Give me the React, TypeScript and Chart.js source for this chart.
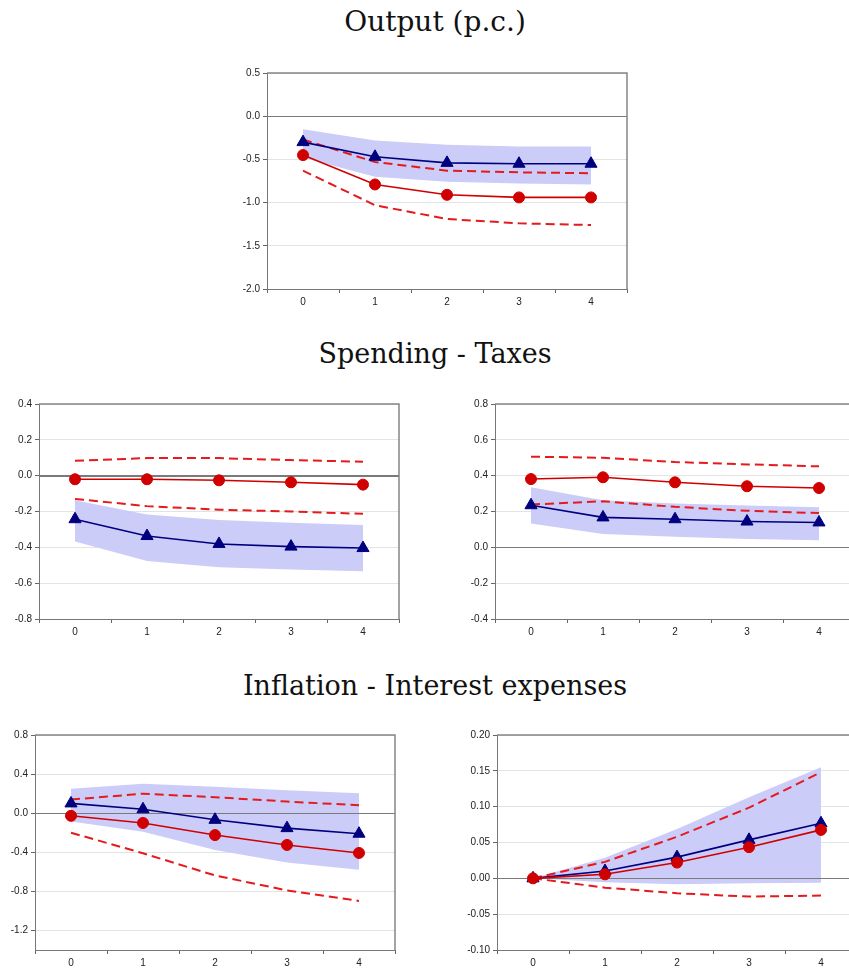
import React, { useEffect, useRef } from 'react';
import { Chart, registerables } from 'chart.js';

Chart.register(...registerables);

// ---------- data ----------
const horizons = ['0', '1', '2', '3', '4'];

// Output (p.c.)
const outRed = [-0.45, -0.79, -0.91, -0.94, -0.94];
const outRedUp = [-0.27, -0.53, -0.63, -0.65, -0.66];
const outRedLo = [-0.63, -1.03, -1.19, -1.24, -1.26];
const outBlue = [-0.30, -0.47, -0.54, -0.55, -0.55];
const outBlueUp = [-0.15, -0.28, -0.33, -0.35, -0.35];
const outBlueLo = [-0.48, -0.70, -0.76, -0.78, -0.79];
const outTicks = [-2.0, -1.5, -1.0, -0.5, 0.0, 0.5];

// Spending (left)
const spendRed = [-0.02, -0.02, -0.026, -0.037, -0.05];
const spendRedUp = [0.083, 0.098, 0.098, 0.087, 0.078];
const spendRedLo = [-0.13, -0.17, -0.19, -0.20, -0.213];
const spendBlue = [-0.243, -0.337, -0.381, -0.396, -0.404];
const spendBlueUp = [-0.137, -0.217, -0.248, -0.263, -0.276];
const spendBlueLo = [-0.368, -0.476, -0.511, -0.524, -0.533];
const spendTicks = [-0.8, -0.6, -0.4, -0.2, 0.0, 0.2, 0.4];

// Taxes (right)
const taxRed = [0.381, 0.391, 0.363, 0.341, 0.331];
const taxRedUp = [0.506, 0.5, 0.476, 0.463, 0.452];
const taxRedLo = [0.239, 0.257, 0.226, 0.204, 0.191];
const taxBlue = [0.235, 0.167, 0.157, 0.144, 0.139];
const taxBlueUp = [0.335, 0.263, 0.244, 0.233, 0.224];
const taxBlueLo = [0.133, 0.074, 0.059, 0.046, 0.039];
const taxTicks = [-0.4, -0.2, 0.0, 0.2, 0.4, 0.6, 0.8];

// Inflation (left)
const inflRed = [-0.027, -0.10, -0.224, -0.325, -0.407];
const inflRedUp = [0.139, 0.20, 0.163, 0.119, 0.081];
const inflRedLo = [-0.20, -0.41, -0.637, -0.79, -0.898];
const inflBlue = [0.10, 0.04, -0.068, -0.153, -0.21];
const inflBlueUp = [0.25, 0.30, 0.27, 0.234, 0.203];
const inflBlueLo = [-0.085, -0.19, -0.376, -0.505, -0.58];
const inflTicks = [-1.2, -0.8, -0.4, 0.0, 0.4, 0.8];

// Interest expenses (right)
const intRed = [0, 0.0056, 0.022, 0.0435, 0.0676];
const intRedUp = [0, 0.023, 0.058, 0.0986, 0.148];
const intRedLo = [0, -0.013, -0.0208, -0.0255, -0.024];
const intBlue = [0, 0.0102, 0.0296, 0.0537, 0.0769];
const intBlueUp = [0, 0.0287, 0.069, 0.113, 0.155];
const intBlueLo = [0, -0.0056, -0.0083, -0.007, -0.006];
const intTicks = [-0.10, -0.05, 0.0, 0.05, 0.10, 0.15, 0.20];

// ---------- styling ----------
const BAND = '#ccccf8';
const NAVY = '#00007f';
const RED = '#d00000';
const RED_DASH = '#e41a1c';
const TICK_FONT = { family: '"Liberation Sans", Arial, sans-serif', size: 10 };

const LY = 50;
const PT = 8;
const PR = 8;
const XH = 24;

type Spec = {
  left: number; top: number; w: number; h: number;
  min: number; max: number; ticks: number[]; dec: number;
  red: number[]; redUp: number[]; redLo: number[];
  blue: number[]; blueUp: number[]; blueLo: number[];
};

const panels: Spec[] = [
  { left: 267, top: 72, w: 360, h: 217, min: -2.0, max: 0.5, ticks: outTicks, dec: 1,
    red: outRed, redUp: outRedUp, redLo: outRedLo, blue: outBlue, blueUp: outBlueUp, blueLo: outBlueLo },
  { left: 39, top: 403, w: 360, h: 216, min: -0.8, max: 0.4, ticks: spendTicks, dec: 1,
    red: spendRed, redUp: spendRedUp, redLo: spendRedLo, blue: spendBlue, blueUp: spendBlueUp, blueLo: spendBlueLo },
  { left: 495, top: 403, w: 360, h: 216, min: -0.4, max: 0.8, ticks: taxTicks, dec: 1,
    red: taxRed, redUp: taxRedUp, redLo: taxRedLo, blue: taxBlue, blueUp: taxBlueUp, blueLo: taxBlueLo },
  { left: 35, top: 734, w: 360, h: 216, min: -1.4, max: 0.8, ticks: inflTicks, dec: 1,
    red: inflRed, redUp: inflRedUp, redLo: inflRedLo, blue: inflBlue, blueUp: inflBlueUp, blueLo: inflBlueLo },
  { left: 497, top: 734, w: 360, h: 216, min: -0.10, max: 0.20, ticks: intTicks, dec: 2,
    red: intRed, redUp: intRedUp, redLo: intRedLo, blue: intBlue, blueUp: intBlueUp, blueLo: intBlueLo },
];

const titles = [
  { text: 'Output (p.c.)', top: 8, size: 28 },
  { text: 'Spending - Taxes', top: 340, size: 27 },
  { text: 'Inflation - Interest expenses', top: 672, size: 27 },
];

const framePlugin = {
  id: 'frame',
  afterDatasetDraw(chart: any, args: any) {
    // zero line above the band, below the lines
    if (args.index !== 4) return;
    const { ctx, chartArea } = chart;
    const y = Math.round(chart.scales.y.getPixelForValue(0)) + 0.5;
    ctx.save();
    ctx.strokeStyle = '#7a7a7a';
    ctx.lineWidth = 1;
    ctx.beginPath();
    ctx.moveTo(chartArea.left, y);
    ctx.lineTo(chartArea.right, y);
    ctx.stroke();
    ctx.restore();
  },
  afterDraw(chart: any) {
    const { ctx, chartArea } = chart;
    ctx.save();
    ctx.strokeStyle = '#858585';
    ctx.lineWidth = 1.5;
    ctx.beginPath();
    ctx.moveTo(chartArea.left, chartArea.top);
    ctx.lineTo(chartArea.right, chartArea.top);
    ctx.lineTo(chartArea.right, chartArea.bottom);
    ctx.stroke();
    ctx.restore();
  },
};

function Panel({ spec }: { spec: Spec }) {
  const ref = useRef<HTMLCanvasElement>(null);
  const cw = LY + spec.w + PR;
  const ch = PT + spec.h + XH;
  useEffect(() => {
    if (!ref.current) return;
    const dashed = (data: number[]) => ({
      data, borderColor: RED_DASH, borderWidth: 2, borderDash: [9, 5],
      pointRadius: 0, pointHoverRadius: 0, fill: false, tension: 0,
    });
    const chart = new Chart(ref.current, {
      type: 'line',
      data: {
        labels: horizons,
        datasets: [
          { data: spec.red, borderColor: RED, borderWidth: 1.6, pointStyle: 'circle', pointRadius: 5.5,
            pointBackgroundColor: RED, pointBorderColor: RED, pointBorderWidth: 1, fill: false, tension: 0 },
          { data: spec.blue, borderColor: NAVY, borderWidth: 1.6, pointStyle: 'triangle', pointRadius: 7,
            pointBackgroundColor: NAVY, pointBorderColor: NAVY, pointBorderWidth: 1, fill: false, tension: 0 },
          dashed(spec.redUp),
          dashed(spec.redLo),
          { data: spec.blueUp, borderWidth: 0, borderColor: 'rgba(0,0,0,0)', pointRadius: 0,
            backgroundColor: BAND, fill: '+1', tension: 0 },
          { data: spec.blueLo, borderWidth: 0, borderColor: 'rgba(0,0,0,0)', pointRadius: 0,
            fill: false, tension: 0 },
        ] as any,
      },
      options: {
        responsive: false,
        animation: false,
        devicePixelRatio: 1,
        layout: { padding: { top: PT, right: PR, left: 0, bottom: 0 } },
        plugins: { legend: { display: false }, tooltip: { enabled: false } },
        events: [],
        scales: {
          x: {
            type: 'category',
            offset: true,
            grid: { offset: true, drawOnChartArea: false, drawTicks: true, tickLength: 4, tickColor: '#666' },
            border: { color: '#777', width: 1 },
            ticks: { color: '#222', font: TICK_FONT, padding: 3, maxRotation: 0, autoSkip: false },
            afterFit: (s: any) => { s.height = XH; },
          },
          y: {
            min: spec.min,
            max: spec.max,
            afterBuildTicks: (s: any) => { s.ticks = spec.ticks.map((v) => ({ value: v })); },
            grid: {
              color: (c: any) => (c.tick && Math.abs(c.tick.value) < 1e-9 ? '#7a7a7a' : '#e3e3e3'),
              tickColor: '#666',
              tickLength: 4,
              lineWidth: 1,
            },
            border: { color: '#777', width: 1 },
            ticks: {
              color: '#222', font: TICK_FONT, padding: 3,
              callback: (v: any) => Number(v).toFixed(spec.dec),
            },
            afterFit: (s: any) => { s.width = LY; },
          },
        } as any,
      },
      plugins: [framePlugin],
    });
    return () => chart.destroy();
  }, [spec]);
  return (
    <canvas
      ref={ref}
      width={cw}
      height={ch}
      style={{ position: 'absolute', left: spec.left - LY, top: spec.top - PT, width: cw, height: ch }}
    />
  );
}

export default function App() {
  return (
    <div style={{ position: 'absolute', left: 0, top: 0, width: 849, height: 968, overflow: 'hidden', background: '#fff' }}>
      {titles.map((t) => (
        <div
          key={t.text}
          style={{
            position: 'absolute', left: 435, top: t.top, transform: 'translateX(-50%)',
            fontFamily: '"DejaVu Serif", "Liberation Serif", serif', fontSize: t.size, lineHeight: '28px',
            fontWeight: 'normal', whiteSpace: 'nowrap', color: '#111',
          }}
        >
          {t.text}
        </div>
      ))}
      {panels.map((p, i) => (
        <Panel key={i} spec={p} />
      ))}
    </div>
  );
}
